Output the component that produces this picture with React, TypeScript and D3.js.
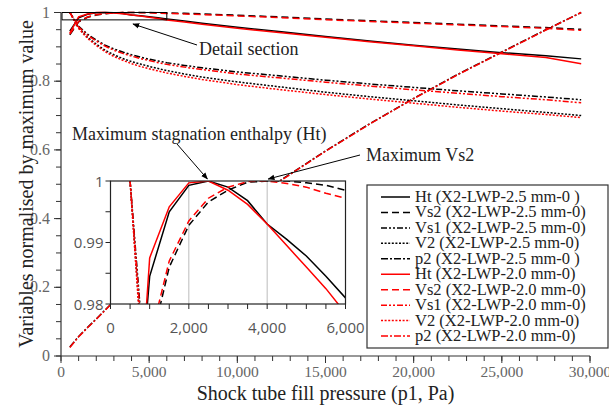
import * as d3 from "d3";

// fill pressure (p1, Pa)
const pressure = [
  500, 1000, 1500, 2000, 2500, 3000, 3500, 4000, 4500, 5000, 5500, 6000, 7000, 8000, 10000, 12500, 15000,
  17500, 20000, 22500, 25000, 27500, 29500,
];

// X2-LWP-2.5 mm-0
const ht25 = [
  0.946, 0.9845, 0.995, 0.9993, 1.0, 0.999, 0.9968, 0.993, 0.9905, 0.9878, 0.9845, 0.981, 0.975, 0.969, 0.957,
  0.944, 0.93, 0.917, 0.905, 0.894, 0.883, 0.874, 0.865,
];
const vs2_25 = [
  0.935, 0.9725, 0.986, 0.9928, 0.9966, 0.9985, 0.9998, 1.0, 1.0, 0.9997, 0.9993, 0.9985, 0.9975, 0.996, 0.992,
  0.987, 0.981, 0.976, 0.971, 0.966, 0.961, 0.956, 0.951,
];
const vs1_25 = [
  1.0, 0.96, 0.937, 0.92, 0.905, 0.894, 0.885, 0.877, 0.87, 0.864, 0.859, 0.854, 0.846, 0.839, 0.827, 0.815,
  0.803, 0.792, 0.782, 0.772, 0.763, 0.754, 0.746,
];
const v2_25 = [
  1.0, 0.955, 0.928, 0.908, 0.89, 0.877, 0.866, 0.857, 0.85, 0.843, 0.837, 0.831, 0.821, 0.812, 0.798, 0.783,
  0.768, 0.755, 0.743, 0.731, 0.72, 0.709, 0.7,
];
const p2_25 = [
  0.026, 0.057, 0.083, 0.108, 0.134, 0.16, 0.18, 0.2, 0.22, 0.24, 0.26, 0.279, 0.317, 0.354, 0.425, 0.513,
  0.597, 0.676, 0.75, 0.82, 0.885, 0.95, 1.0,
];

// X2-LWP-2.0 mm-0
const ht20 = [
  0.94, 0.9875, 0.9958, 0.9997, 1.0, 0.9985, 0.9962, 0.993, 0.9895, 0.986, 0.9825, 0.9785, 0.972, 0.966, 0.954,
  0.941, 0.928, 0.915, 0.903, 0.891, 0.88, 0.869, 0.851,
];
const vs2_20 = [
  0.937, 0.974, 0.987, 0.9935, 0.9972, 0.999, 0.9999, 1.0, 0.9996, 0.999, 0.998, 0.9972, 0.9955, 0.994, 0.99,
  0.985, 0.979, 0.974, 0.969, 0.964, 0.959, 0.954, 0.948,
];
const vs1_20 = [
  1.0, 0.958, 0.934, 0.917, 0.902, 0.89, 0.881, 0.873, 0.866, 0.86, 0.854, 0.849, 0.841, 0.834, 0.821, 0.809,
  0.797, 0.786, 0.775, 0.765, 0.755, 0.746, 0.737,
];
const v2_20 = [
  1.0, 0.953, 0.925, 0.904, 0.886, 0.872, 0.861, 0.851, 0.843, 0.836, 0.83, 0.824, 0.814, 0.805, 0.79, 0.775,
  0.761, 0.748, 0.736, 0.724, 0.713, 0.703, 0.694,
];
const p2_20 = [
  0.025, 0.056, 0.082, 0.107, 0.133, 0.159, 0.179, 0.199, 0.219, 0.239, 0.259, 0.278, 0.316, 0.353, 0.424, 0.512,
  0.596, 0.675, 0.749, 0.819, 0.884, 0.949, 1.0,
];

const legendLabels = [
  "Ht (X2-LWP-2.5 mm-0 )",
  "Vs2 (X2-LWP-2.5 mm-0)",
  "Vs1 (X2-LWP-2.5 mm-0)",
  "V2 (X2-LWP-2.5 mm-0)",
  "p2 (X2-LWP-2.5 mm-0 )",
  "Ht (X2-LWP-2.0 mm-0)",
  "Vs2 (X2-LWP-2.0 mm-0)",
  "Vs1 (X2-LWP-2.0 mm-0)",
  "V2 (X2-LWP-2.0 mm-0)",
  "p2 (X2-LWP-2.0 mm-0)",
];

const mainXTicks = [0, 5000, 10000, 15000, 20000, 25000, 30000];
const mainYTicks = [0, 0.2, 0.4, 0.6, 0.8, 1];
const insetXTicks = [0, 2000, 4000, 6000];
const insetYTicks = [0.98, 0.99, 1];

const dashes = ["", "7,4", "6,2,2,2,2,2", "2,1.6", "7,2,2,2"];
const seriesValues = [ht25, vs2_25, vs1_25, v2_25, p2_25, ht20, vs2_20, vs1_20, v2_20, p2_20];
const series = seriesValues.map((values, i) => ({
  values,
  label: legendLabels[i],
  color: i < 5 ? "#000" : "#ff0000",
  dash: dashes[i % 5],
}));

const serif = "'Liberation Serif', 'Times New Roman', serif";
const sans = "'Open Sans', 'Noto Sans', sans-serif";

const W = 609;
const H = 407;

export default function App() {
  // main axes
  const x = d3.scaleLinear().domain([0, 30000]).range([61, 590]);
  const y = d3.scaleLinear().domain([0, 1]).range([356, 12.5]);
  // inset axes
  const ix = d3.scaleLinear().domain([0, 6000]).range([110.5, 345.5]);
  const iy = d3.scaleLinear().domain([0.98, 1]).range([304, 181]);

  const mainLine = d3
    .line<number>()
    .x((_, i) => x(pressure[i]))
    .y((d) => y(d));
  const insetLine = d3
    .line<number>()
    .x((_, i) => ix(pressure[i]))
    .y((d) => iy(d));

  const fmt = d3.format(",");
  const minorX = d3.range(0, 30001, 1000);
  const minorY = d3.range(0, 1.0001, 0.05);
  const insetMinorX = d3.range(0, 6001, 500);
  const insetMinorY = d3.range(0.98, 1.0001, 0.005);

  const legendX = 367;
  const legendY = 185;
  const rowH = 15.45;

  return (
    <svg
      width={W}
      height={H}
      style={{ position: "fixed", left: 0, top: 0, background: "#fff" }}
      fontFamily={serif}
    >
      <defs>
        <marker id="arrow" viewBox="0 0 10 10" refX="9" refY="5" markerWidth="7" markerHeight="7" orient="auto">
          <path d="M0,1 L10,5 L0,9 z" fill="#000" />
        </marker>
        <clipPath id="insetClip">
          <rect x={ix(0)} y={iy(1)} width={ix(6000) - ix(0)} height={iy(0.98) - iy(1)} />
        </clipPath>
      </defs>

      {/* main series */}
      {series.map((s, i) => (
        <path
          key={"m" + i}
          d={mainLine(s.values) || ""}
          fill="none"
          stroke={s.color}
          strokeWidth={1.5}
          strokeDasharray={s.dash}
        />
      ))}

      {/* detail section box */}
      <rect
        x={x(0) + 1}
        y={y(1)}
        width={x(6000) - x(0) - 1}
        height={y(0.98) - y(1) + 0.5}
        fill="none"
        stroke="#000"
        strokeWidth={1}
      />

      {/* main axes */}
      <line x1={x(0)} x2={x(0)} y1={y(1)} y2={y(0)} stroke="#333" strokeWidth={1.2} />
      <line x1={x(0)} x2={x(30000)} y1={y(0)} y2={y(0)} stroke="#333" strokeWidth={1.2} />
      {minorY.map((v, i) => (
        <line key={"my" + i} x1={x(0) - 5} x2={x(0)} y1={y(v)} y2={y(v)} stroke="#333" strokeWidth={1} />
      ))}
      {mainYTicks.map((v) => (
        <g key={"yt" + v}>
          <line x1={x(0) - 7} x2={x(0)} y1={y(v)} y2={y(v)} stroke="#333" strokeWidth={1} />
          <text x={x(0) - 11} y={y(v) + 5} textAnchor="end" fontSize={16} fill="#666">
            {String(v)}
          </text>
        </g>
      ))}
      {minorX.map((v, i) => (
        <line key={"mx" + i} x1={x(v)} x2={x(v)} y1={y(0)} y2={y(0) + 5} stroke="#333" strokeWidth={1} />
      ))}
      {mainXTicks.map((v) => (
        <g key={"xt" + v}>
          <line x1={x(v)} x2={x(v)} y1={y(0)} y2={y(0) + 7} stroke="#333" strokeWidth={1} />
          <text x={x(v)} y={y(0) + 21} textAnchor="middle" fontSize={15.5} fill="#666">
            {fmt(v)}
          </text>
        </g>
      ))}

      <text x={(x(0) + x(30000)) / 2 + 0} y={400} textAnchor="middle" fontSize={20} fill="#222">
        Shock tube fill pressure (p1, Pa)
      </text>
      <text
        transform={`translate(33, 184) rotate(-90)`}
        textAnchor="middle"
        fontSize={20}
        fill="#222"
      >
        Variables normalised by maximum value
      </text>

      {/* annotations */}
      <text x={199} y={55} fontSize={18} fill="#222">
        Detail section
      </text>
      <line x1={197} y1={45} x2={133} y2={24} stroke="#000" strokeWidth={1} markerEnd="url(#arrow)" />
      <text x={72} y={140} fontSize={18} fill="#222">
        Maximum stagnation enthalpy (Ht)
      </text>
      <line x1={177} y1={144} x2={ix(2500) - 1} y2={iy(1) - 2} stroke="#000" strokeWidth={1} markerEnd="url(#arrow)" />
      <text x={366} y={161} fontSize={18} fill="#222">
        Maximum Vs2
      </text>
      <line x1={360} y1={155} x2={ix(4000) + 1} y2={iy(1) - 2} stroke="#000" strokeWidth={1} markerEnd="url(#arrow)" />

      {/* inset */}
      <rect x={ix(0)} y={iy(1)} width={ix(6000) - ix(0)} height={iy(0.98) - iy(1)} fill="#fff" />
      {[2000, 4000].map((v) => (
        <line key={"g" + v} x1={ix(v)} x2={ix(v)} y1={iy(1)} y2={iy(0.98)} stroke="#bbb" strokeWidth={1} />
      ))}
      <g clipPath="url(#insetClip)">
        {series.map((s, i) => (
          <path
            key={"i" + i}
            d={insetLine(s.values) || ""}
            fill="none"
            stroke={s.color}
            strokeWidth={1.5}
            strokeDasharray={s.dash}
          />
        ))}
      </g>
      <rect
        x={ix(0)}
        y={iy(1)}
        width={ix(6000) - ix(0)}
        height={iy(0.98) - iy(1)}
        fill="none"
        stroke="#222"
        strokeWidth={1.2}
      />
      {insetMinorX.map((v, i) => (
        <line key={"imx" + i} x1={ix(v)} x2={ix(v)} y1={iy(0.98)} y2={iy(0.98) + 5} stroke="#222" strokeWidth={1} />
      ))}
      {insetMinorY.map((v, i) => (
        <line key={"imy" + i} x1={ix(0) - 5} x2={ix(0)} y1={iy(v)} y2={iy(v)} stroke="#222" strokeWidth={1} />
      ))}
      {insetXTicks.map((v) => (
        <text key={"ixt" + v} x={ix(v)} y={iy(0.98) + 29} textAnchor="middle" fontSize={15} fill="#555" fontFamily={sans}>
          {fmt(v)}
        </text>
      ))}
      {insetYTicks.map((v) => (
        <text key={"iyt" + v} x={ix(0) - 7} y={iy(v) + 5.5} textAnchor="end" fontSize={15} fill="#555" fontFamily={sans}>
          {String(v)}
        </text>
      ))}

      {/* legend */}
      <rect
        x={legendX}
        y={legendY}
        width={241}
        height={163}
        fill="#fff"
        stroke="#333"
        strokeWidth={1.2}
      />
      {series.map((s, i) => (
        <g key={"l" + i} transform={`translate(${legendX}, ${legendY + 12 + i * rowH})`}>
          <line x1={14} x2={43} y1={0} y2={0} stroke={s.color} strokeWidth={1.5} strokeDasharray={s.dash} />
          <text x={48} y={5} fontSize={16.5} fill="#222">
            {s.label}
          </text>
        </g>
      ))}
    </svg>
  );
}
